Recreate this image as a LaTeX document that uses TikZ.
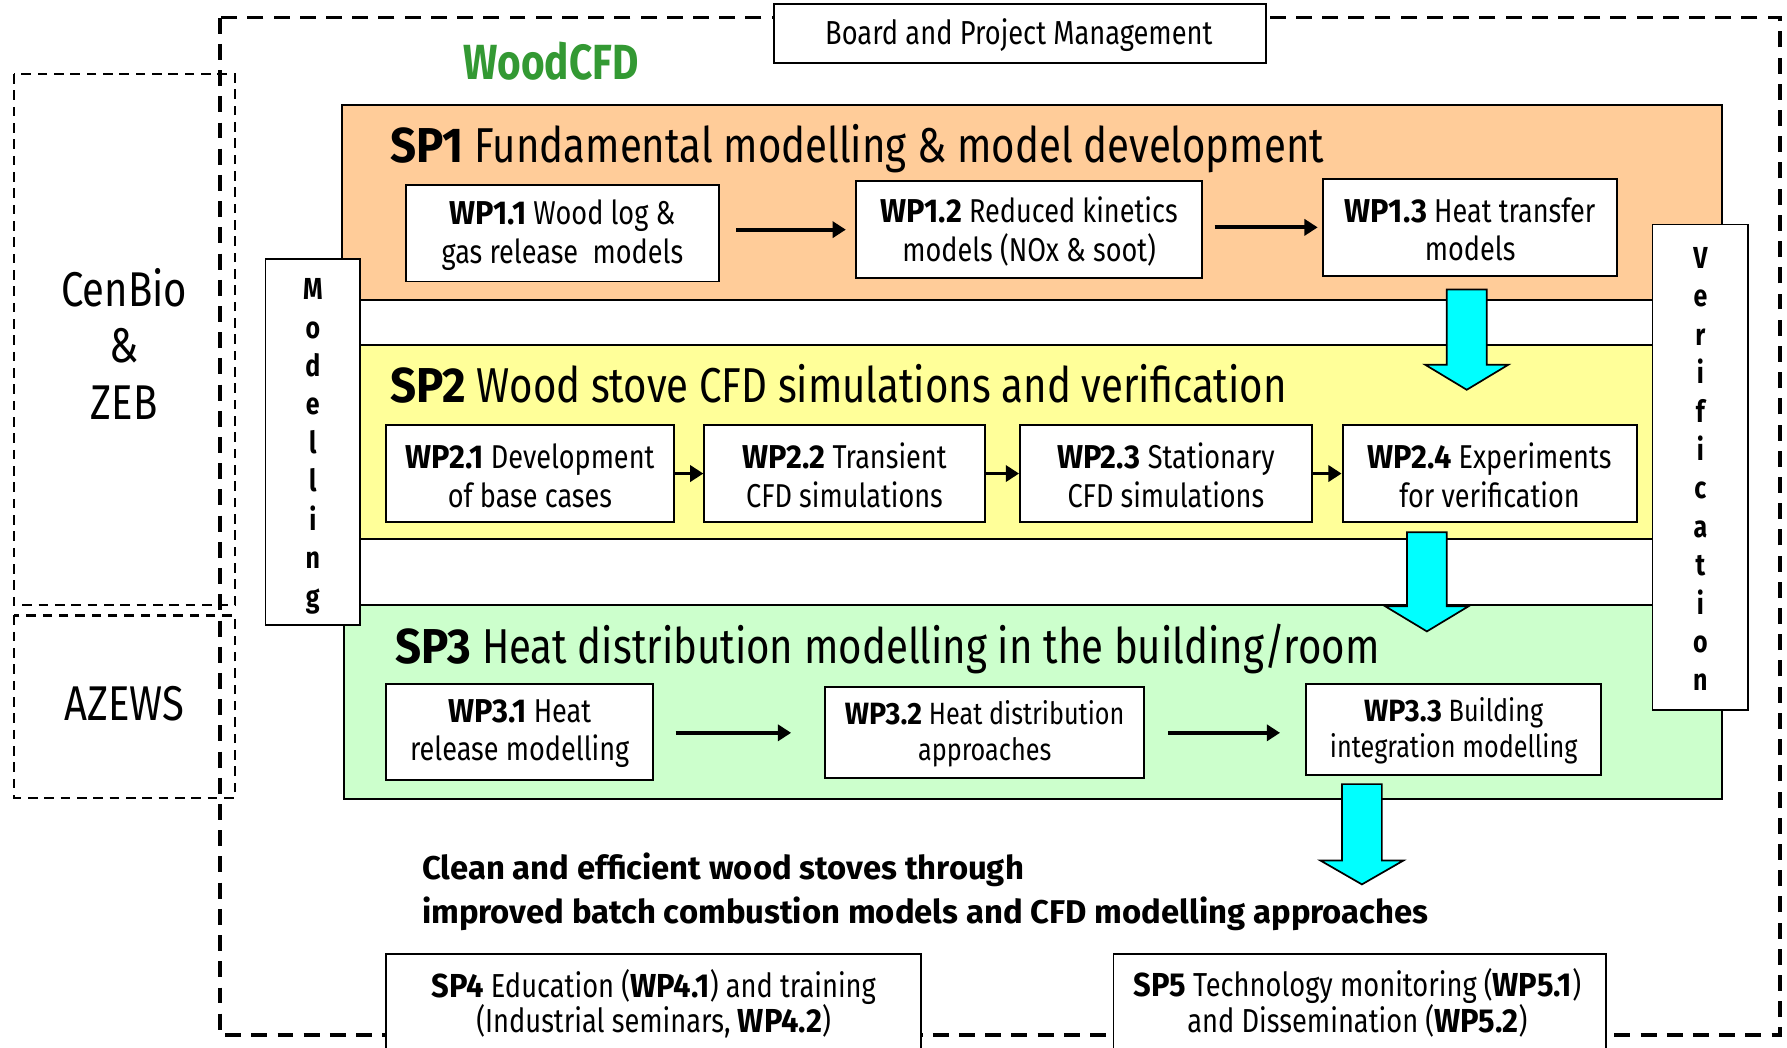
\documentclass[tikz,border=0pt]{standalone}
\usepackage{fontspec}
\setmainfont{Fira Sans}[FakeStretch=0.82]
\newfontfamily\lblfam{Fira Sans}[FakeStretch=0.93]
\newfontfamily\widefam{Fira Sans}
\usetikzlibrary{arrows.meta,fit}
\definecolor{spone}{HTML}{FFCC99}
\definecolor{sptwo}{HTML}{FFFF99}
\definecolor{spthree}{HTML}{CCFFCC}
\definecolor{woodgreen}{HTML}{339933}
\definecolor{blockcyan}{HTML}{00FFFF}
\newcommand\lb[1]{{\lblfam\bfseries #1}}
\newcommand\fWP{\fontsize{17.4}{20.4}\selectfont}
\newcommand\fWPs{\fontsize{16.2}{19}\selectfont}
\newcommand\fTitle{\fontsize{25.8}{30}\selectfont}
\newcommand\fBig{\fontsize{25.7}{30}\selectfont}
\newcommand\fWood{\bfseries\fontsize{26}{30}\selectfont}
\newcommand\fBottom{\widefam\bfseries\fontsize{17.3}{22.8}\selectfont}
\newcommand\fVert{\bfseries\fontsize{16}{20}\selectfont}
\newcommand\fBoard{\fontsize{17.5}{20}\selectfont}
\newcommand\fSmall{\fontsize{17.5}{20}\selectfont}
\newcommand\blockarrow[4]{%
  \draw[blockarr] ({#1-17.5},#2) -- ({#1+17.5},#2) -- ({#1+17.5},#3) -- ({#1+36.5},#3)
    -- (#1,#4) -- ({#1-36.5},#3) -- ({#1-17.5},#3) -- cycle;}
\begin{document}
\begin{tikzpicture}[x=0.6pt,y=-0.6pt,
  wpbox/.style={draw, line width=1pt, fill=white, inner sep=0pt},
  wptext/.style={align=center, font=\fWP, inner sep=0pt},
  spbox/.style={draw, line width=1pt, inner sep=0pt},
  sidebox/.style={draw, line width=1pt, fill=white, inner sep=0pt},
  arr/.style={line width=2pt, -{Triangle[length=7pt,width=8.5pt]}},
  blockarr/.style={draw, line width=0.9pt, fill=blockcyan, line join=miter},
  outerdash/.style={line width=1.8pt, dash pattern=on 8.4pt off 5.4pt},
  thindash/.style={line width=1.2pt, dash pattern=on 5pt off 3.6pt},
  vletter/.style={anchor=base, font=\fVert, inner sep=0pt},
]
\useasboundingbox (0,0) rectangle (1568,919);
\clip (0,0) rectangle (1568,919);
\fill[white] (0,0) rectangle (1568,919);

% left partner boxes
\draw[thindash] (12.6,65) rectangle (206,531);
\draw[thindash] (12.6,540) rectangle (206,700);
\node[anchor=base, font=\fBig] (cenbio) at (109,268.5) {CenBio};
\node[anchor=base, font=\fBig] (amp) at (109,318) {\&};
\node[anchor=base, font=\fBig] (zeb) at (109,368.5) {ZEB};
\node[anchor=base, font=\fBig] (azews) at (109,632.6) {AZEWS};

% outer project frame
\draw[outerdash] (193,15.5) rectangle (1562,908);

% board
\node[sidebox, fit={(679,3.5) (1111,55)}] (board) {};
\node[anchor=base, font=\fBoard] (boardt) at (894,39) {Board and Project Management};

\node[anchor=base, font=\fWood, text=woodgreen] (wood) at (483.5,69.5) {WoodCFD};

% sub-projects
\node[spbox, fill=spone, fit={(300,92) (1511,263)}] (sp1) {};
\node[spbox, fill=sptwo, fit={(300,303) (1511,473)}] (sp2) {};
\node[spbox, fill=spthree, fit={(302,531) (1511,701)}] (sp3) {};

\node[anchor=base west, font=\fTitle, inner sep=0pt] (sp1t) at (342,143) {\lb{SP1} Fundamental modelling \& model development};
\node[anchor=base west, font=\fTitle, inner sep=0pt] (sp2t) at (342,353) {\lb{SP2} Wood stove CFD simulations and verification};
\node[anchor=base west, font=\fTitle, inner sep=0pt] (sp3t) at (346.5,582) {\lb{SP3} Heat distribution modelling in the building/room};

% side bars
\node[sidebox, fit={(233,227) (316,548)}] (modbox) {};
\node[sidebox, fit={(1450,197) (1534,623)}] (verbox) {};
\foreach \c [count=\i from 0] in {M,o,d,e,l,l,i,n,g}
  \node[vletter] (mod\i) at (274.5,{263+33.7*\i}) {\c};
\foreach \c [count=\i from 0] in {V,e,r,i,f,i,c,a,t,i,o,n}
  \node[vletter] (ver\i) at (1492,{235.5+33.7*\i}) {\c};

% work packages SP1
\node[wpbox, fit={(356,162) (631,247)}] (w11) {};
\node[wpbox, fit={(751,159) (1055,244)}] (w12) {};
\node[wpbox, fit={(1161,157) (1419,242)}] (w13) {};
\node[wptext] (w11t) at ([yshift=-1pt]w11.center) {\lb{WP1.1} Wood log \&\\gas release\ \ models};
\node[wptext] (w12t) at ([yshift=-1pt]w12.center) {\lb{WP1.2} Reduced kinetics\\models (NOx \& soot)};
\node[wptext] (w13t) at ([yshift=-1pt]w13.center) {\lb{WP1.3} Heat transfer\\models};
% SP2
\node[wpbox, fit={(339,373) (591,458)}] (w21) {};
\node[wpbox, fit={(618,373) (864,458)}] (w22) {};
\node[wpbox, fit={(895,373) (1151,458)}] (w23) {};
\node[wpbox, fit={(1178,373) (1436,458)}] (w24) {};
\node[wptext] (w21t) at ([yshift=-1pt]w21.center) {\lb{WP2.1} Development\\of base cases};
\node[wptext] (w22t) at ([yshift=-1pt]w22.center) {\lb{WP2.2} Transient\\CFD simulations};
\node[wptext] (w23t) at ([yshift=-1pt]w23.center) {\lb{WP2.3} Stationary\\CFD simulations};
\node[wptext] (w24t) at ([yshift=-1pt]w24.center) {\lb{WP2.4} Experiments\\for verification};
% SP3
\node[wpbox, fit={(339,600) (573,684)}] (w31) {};
\node[wpbox, fit={(724,603) (1004,683)}] (w32) {};
\node[wpbox, fit={(1146,600) (1405,680)}] (w33) {};
\node[wptext] (w31t) at ([yshift=-1pt]w31.center) {\lb{WP3.1} Heat\\release modelling};
\node[wptext, font=\fWPs] (w32t) at ([yshift=-0.5pt]w32.center) {\lb{WP3.2} Heat distribution\\approaches};
\node[wptext, font=\fWPs] (w33t) at ([yshift=-0.5pt]w33.center) {\lb{WP3.3} Building\\integration modelling};

% arrows
\draw[arr, shorten <=8.4pt, shorten >=4.8pt] (w11.east |- w12.west) -- (w12.west);
\draw[arr, shorten <=6pt, shorten >=2.4pt] (w12.east |- w13.west) -- (w13.west);
\draw[arr] (w21.east) -- (w22.west);
\draw[arr] (w22.east) -- (w23.west);
\draw[arr] (w23.east) -- (w24.west);
\draw[arr, shorten <=11.4pt, shorten >=17.4pt] (w31.east |- w32.west) -- (w32.west);
\draw[arr, shorten <=12pt, shorten >=13.2pt] (w32.east) -- (w32.east -| w33.west);

% block arrows
\blockarrow{1287}{254}{320}{342}
\blockarrow{1252}{467}{532}{554}
\blockarrow{1195}{688}{755}{776}

% outcome
\node[anchor=base west, font=\fBottom, inner sep=0pt] (out1) at (370,772) {Clean and efficient wood stoves through};
\node[anchor=base west, font=\fBottom, inner sep=0pt] (out2) at (370,810) {improved batch combustion models and CFD modelling approaches};

% SP4 / SP5
\node[wpbox, fit={(339,837) (808,960)}] (sp4) {};
\node[anchor=base, font=\fSmall] (sp4a) at (573.5,875) {\lb{SP4} Education (\lb{WP4.1}) and training};
\node[anchor=base, font=\fSmall] (sp4b) at (573.5,906) {(Industrial seminars, \lb{WP4.2})};
\node[wpbox, fit={(977,837) (1409,960)}] (sp5) {};
\node[anchor=base, font=\fSmall] (sp5a) at (1191,874) {\lb{SP5} Technology monitoring (\lb{WP5.1})};
\node[anchor=base, font=\fSmall] (sp5b) at (1191,906) {and Dissemination (\lb{WP5.2})};
\end{tikzpicture}
\end{document}
